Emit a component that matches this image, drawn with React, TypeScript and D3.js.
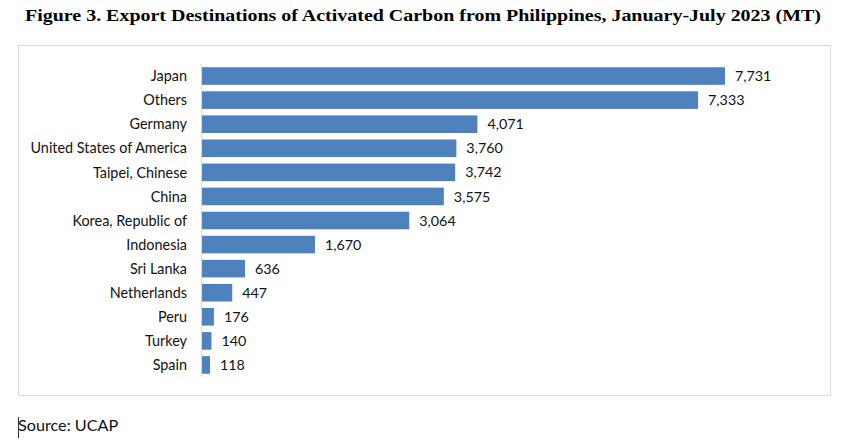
import React from "react";
import * as d3 from "d3";

const categories = [
  "Japan",
  "Others",
  "Germany",
  "United States of America",
  "Taipei, Chinese",
  "China",
  "Korea, Republic of",
  "Indonesia",
  "Sri Lanka",
  "Netherlands",
  "Peru",
  "Turkey",
  "Spain",
];
const values = [7731, 7333, 4071, 3760, 3742, 3575, 3064, 1670, 636, 447, 176, 140, 118];

const titleText = "Figure 3. Export Destinations of Activated Carbon from Philippines, January-July 2023 (MT)";
const sourceText = "Source: UCAP";

export default function App() {
  const W = 842;
  const H = 445;
  const x = d3.scaleLinear().domain([0, 9000]).range([202, 810.85]);
  const y = d3
    .scaleBand<string>()
    .domain(categories)
    .range([64, 377])
    .paddingInner(0.27)
    .paddingOuter(0.135);
  const fmt = d3.format(",");
  const labelFont = "Lato, 'Open Sans', sans-serif";

  return (
    <svg
      width={W}
      height={H}
      style={{ position: "absolute", left: 0, top: 0, background: "#fff" }}
    >
      <rect x={0} y={0} width={W} height={H} fill="#fff" />
      <text
        x={25}
        y={20.5}
        fontFamily="'Liberation Serif', 'DejaVu Serif', serif"
        fontWeight="bold"
        fontSize={17.5}
        fill="#000"
        textLength={796}
        lengthAdjust="spacingAndGlyphs"
      >
        {titleText}
      </text>
      <rect x={18.5} y={45.5} width={812} height={350} fill="none" stroke="#d9d9d9" strokeWidth={1} />
      {categories.map((c, i) => (
        <g key={c}>
          <rect
            x={x(0)}
            y={y(c)}
            width={x(values[i]) - x(0)}
            height={y.bandwidth()}
            fill="#4F81BD"
          />
          <text
            x={x(values[i]) + 10}
            y={(y(c) as number) + y.bandwidth() / 2}
            dy="0.36em"
            fontFamily={labelFont}
            fontSize={14.3}
            fill="#111"
          >
            {fmt(values[i])}
          </text>
          <text
            x={187}
            y={(y(c) as number) + y.bandwidth() / 2}
            dy="0.36em"
            textAnchor="end"
            fontFamily={labelFont}
            fontSize={14.4}
            fill="#111"
          >
            {c}
          </text>
        </g>
      ))}
      <line x1={201.5} x2={201.5} y1={64} y2={377} stroke="#d9d9d9" strokeWidth={1} />
      <line x1={18.5} x2={18.5} y1={417} y2={438} stroke="#333" strokeWidth={1} />
      <text x={18} y={431} fontFamily={labelFont} fontSize={16.2} fill="#111">
        {sourceText}
      </text>
    </svg>
  );
}
